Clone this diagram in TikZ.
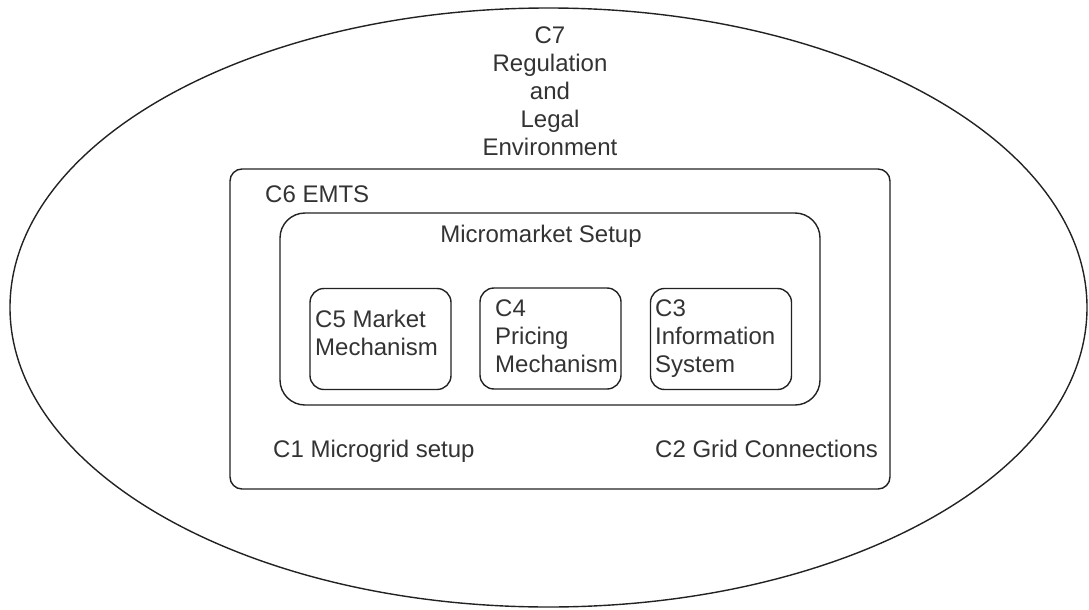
\documentclass[tikz,border=0pt]{standalone}
\usepackage{fontspec}
\setmainfont{Liberation Sans}
\usetikzlibrary{shapes.geometric}
\definecolor{ink}{HTML}{222222}
\definecolor{txt}{HTML}{333333}
\tikzset{
  frame/.style={draw=ink, line width=1.4pt},
  layer/.style={frame, rectangle, rounded corners=25pt, minimum width=540pt, minimum height=192pt, inner sep=0pt},
  compbox/.style={frame, rectangle, rounded corners=14pt, minimum width=141pt, minimum height=101pt, inner sep=0pt},
  lbl/.style={text=txt, inner sep=0pt, font=\fontsize{24}{28}\selectfont},
}
\begin{document}
\begin{tikzpicture}[x=1pt, y=-1pt]
  \useasboundingbox (0,0) rectangle (1089,610);

  % C7: regulatory environment (multi-line labels are anchored on their last baseline)
  \node[frame, ellipse, minimum width=1077pt, minimum height=599pt, inner sep=0pt] (env) at (548.5,307.5) {};
  \node[lbl, align=center, anchor=base] (envlbl) at (550,155)
    {C7\\Regulation\\and\\Legal\\Environment};

  % C6: EMTS frame (square top-left corner, other corners rounded)
  \draw[frame, rounded corners=12pt] (230,329) -- (230,489) -- (890,489) -- (890,169) -- (230,169) [sharp corners] -- cycle;
  \coordinate (emts) at (560,329);
  \node[lbl, anchor=base west] (emtslbl) at (265,202) {C6 EMTS};

  % Micromarket setup layer
  \node[layer] (mm) at (550,309) {};
  \node[lbl, anchor=base] (mmlbl) at (541,242) {Micromarket Setup};

  % Components C5, C4, C3
  \node[compbox] (c5) at (380.5,339) {};
  \node[compbox] (c4) at (550.5,338.5) {};
  \node[compbox] (c3) at (721,339) {};
  \node[lbl, align=left, anchor=base west] (c5lbl) at (315,355) {C5 Market\\Mechanism};
  \node[lbl, align=left, anchor=base west] (c4lbl) at (495,372) {C4\\Pricing\\Mechanism};
  \node[lbl, align=left, anchor=base west] (c3lbl) at (655,372) {C3\\Information\\System};

  % C1 and C2
  \node[lbl, anchor=base west] (c1lbl) at (273,457) {C1 Microgrid setup};
  \node[lbl, anchor=base west] (c2lbl) at (655,457) {C2 Grid Connections};
\end{tikzpicture}
\end{document}
